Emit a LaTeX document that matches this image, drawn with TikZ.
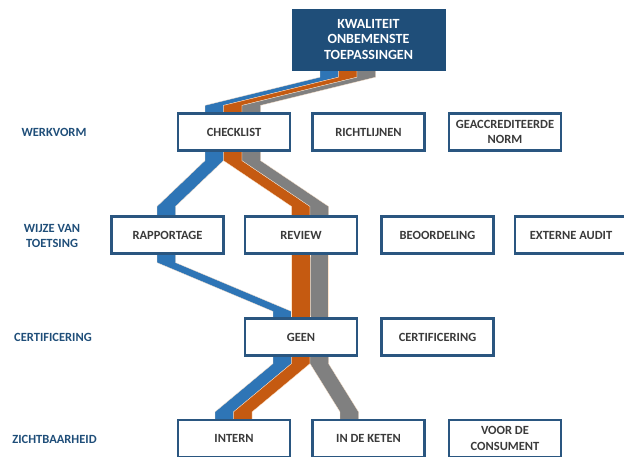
\documentclass[tikz,border=0pt]{standalone}
\usepackage{fontspec}
\setmainfont{Carlito}
\usetikzlibrary{calc,backgrounds}
\definecolor{navy}{HTML}{1F4E79}
\definecolor{boxline}{HTML}{2A5680}
\definecolor{txt}{HTML}{3A3A3A}
\definecolor{rblue}{HTML}{2E75B6}
\definecolor{rorange}{HTML}{C55A11}
\definecolor{rgray}{HTML}{808080}
\newcommand\ribbonstripe[7]{% colour, from node, dx1, to node, dx2, b1, b2
  \filldraw[fill=#1, draw=white!80!orange, line width=0.3pt]
    ($(#2.south)+(#3,-3)$) -- ($(#2.south)+(#3,#6)$) --
    ($(#4.north)+(#5,-#7)$) -- ($(#4.north)+(#5,3)$) --
    ($(#4.north)+(#5+18.5,3)$) -- ($(#4.north)+(#5+18.5,-#7)$) --
    ($(#2.south)+(#3+18.5,#6)$) -- ($(#2.south)+(#3+18.5,-3)$) -- cycle;}
\begin{document}
\begin{tikzpicture}[x=1pt,y=-1pt,
  txtfont/.style={font=\bfseries\fontsize{12.5}{15.5}\selectfont},
  optbox/.style={txtfont, draw=boxline, line width=2.2pt, fill=white, text=txt,
    minimum width=112pt, minimum height=37pt, inner sep=0pt, align=center},
  topbox/.style={font=\bfseries\fontsize{14}{15.5}\selectfont, draw=navy, fill=navy, text=white,
    minimum width=153pt, minimum height=61pt, inner sep=0pt, align=center},
  rowlabel/.style={txtfont, text=navy, align=center, inner sep=0pt}]
\useasboundingbox (0,0) rectangle (624,457);
% top
\node[topbox] (top) at (368.5,39.5) {KWALITEIT\\ONBEMENSTE\\TOEPASSINGEN};
% row labels
\node[rowlabel] (lwerk) at (54,132) {WERKVORM};
\node[rowlabel] (lwijze) at (52,236) {WIJZE VAN\\TOETSING};
\node[rowlabel] (lcert) at (53,337) {CERTIFICERING};
\node[rowlabel] (lzicht) at (54.5,439) {ZICHTBAARHEID};
% row 1
\node[optbox] (checklist) at (234,132) {CHECKLIST};
\node[optbox] (richtlijnen) at (368.5,132) {RICHTLIJNEN};
\node[optbox] (norm) at (505,132) {GEACCREDITEERDE\\NORM};
% row 2
\node[optbox] (rapportage) at (167.5,235) {RAPPORTAGE};
\node[optbox] (review) at (301,235) {REVIEW};
\node[optbox] (beoordeling) at (437.5,235) {BEOORDELING};
\node[optbox] (audit) at (571,235) {EXTERNE AUDIT};
% row 3
\node[optbox] (geen) at (301,337) {GEEN};
\node[optbox] (certificering) at (437.5,337) {CERTIFICERING};
% row 4
\node[optbox] (intern) at (234,438.5) {INTERN};
\node[optbox] (keten) at (368.5,438.5) {IN DE KETEN};
\node[optbox] (consument) at (505,438.5) {VOOR DE\\CONSUMENT};
% ribbons
\begin{pgfonlayer}{background}
  % top -> checklist
  \ribbonstripe{rblue}{top}{-48.5}{checklist}{-29}{7}{7}
  \ribbonstripe{rorange}{top}{-30}{checklist}{-10.5}{7}{7}
  \ribbonstripe{rgray}{top}{-11.5}{checklist}{8}{7}{7}
  % checklist -> rapportage / review
  \ribbonstripe{rblue}{checklist}{-29}{rapportage}{-10.5}{9}{9}
  \ribbonstripe{rorange}{checklist}{-10.5}{review}{-9.5}{9}{9}
  \ribbonstripe{rgray}{checklist}{8}{review}{9}{9}{9}
  % rapportage / review -> geen
  \ribbonstripe{rblue}{rapportage}{-10.5}{geen}{-28}{8}{6}
  \ribbonstripe{rorange}{review}{-9.5}{geen}{-9.5}{8}{6}
  \ribbonstripe{rgray}{review}{9}{geen}{9}{8}{6}
  % geen -> intern / keten
  \ribbonstripe{rblue}{geen}{-28}{intern}{-19}{7}{7}
  \ribbonstripe{rorange}{geen}{-9.5}{intern}{-0.5}{7}{7}
  \ribbonstripe{rgray}{geen}{9}{keten}{-28.5}{7}{7}
\end{pgfonlayer}
\end{tikzpicture}
\end{document}
